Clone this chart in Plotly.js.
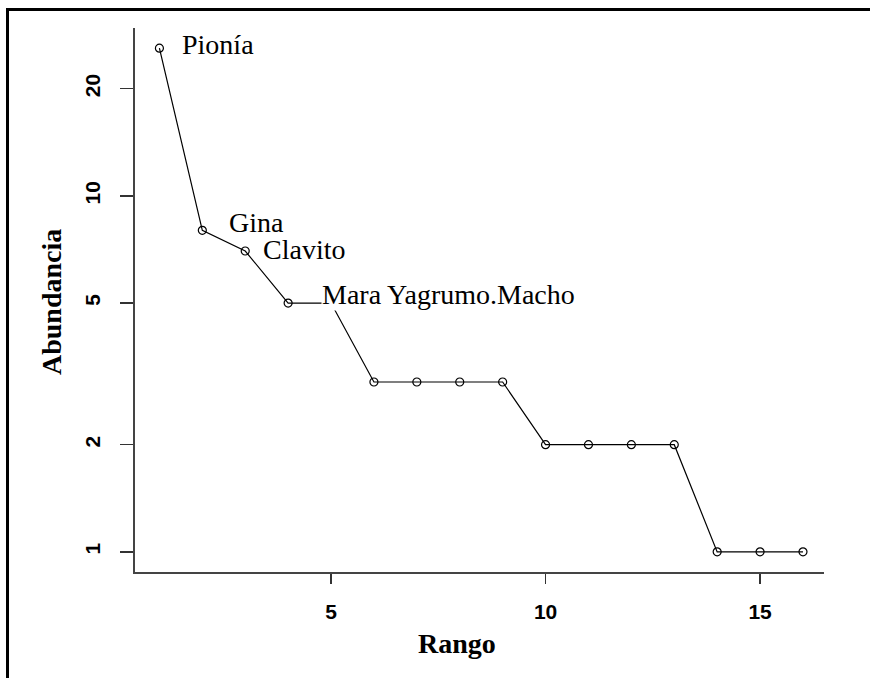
<!DOCTYPE html>
<html>
<head>
<meta charset="utf-8">
<script src="https://cdn.plot.ly/plotly-3.0.1.min.js"></script>
<style>
  html, body { margin: 0; padding: 0; background: #fff; }
  #wrap { position: relative; width: 870px; height: 678px; overflow: hidden; }
  #chart { position: absolute; left: 0; top: 0; width: 870px; height: 678px; }
  #frame { position: absolute; left: 6px; top: 8px; width: 900px; height: 700px;
           border-left: 3px solid #000; border-top: 3px solid #000; pointer-events: none; }
</style>
</head>
<body>
<div id="wrap">
  <div id="chart"></div>
  <div id="frame"></div>
</div>
<script>
// Rank-abundance data
const ranks = [1, 2, 3, 4, 5, 6, 7, 8, 9, 10, 11, 12, 13, 14, 15, 16];
const abundance = [26, 8, 7, 5, 5, 3, 3, 3, 3, 2, 2, 2, 2, 1, 1, 1];

// Labelled species (rank -> name)
const labelRanks = [1, 2, 3, 4];
const labelNames = ["Pionía", "Gina", "Clavito", "Mara Yagrumo.Macho"];

// Tick labels
const yTickVals = [1, 2, 5, 10, 20];
const yTickText = ["1", "2", "5", "10", "20"];
const xTickVals = [5, 10, 15];
const xTickText = ["5", "10", "15"];

const labelStyle = [
  { xshift: 22, yshift: 4, bg: "rgba(0,0,0,0)" },
  { xshift: 26, yshift: 8, bg: "rgba(0,0,0,0)" },
  { xshift: 17, yshift: 2, bg: "rgba(0,0,0,0)" },
  { xshift: 33, yshift: 9, bg: "#ffffff" }
];

const serif = "Liberation Serif, Times New Roman, serif";
const sans = "Liberation Sans, Arial, sans-serif";

const annotations = labelNames.map((name, i) => {
  const r = labelRanks[i];
  return {
    x: r, y: Math.log10(abundance[ranks.indexOf(r)]),
    xref: "x", yref: "y",
    text: name, showarrow: false,
    xanchor: "left", yanchor: "middle",
    xshift: labelStyle[i].xshift, yshift: labelStyle[i].yshift,
    bgcolor: labelStyle[i].bg, borderpad: 0,
    font: { family: serif, size: 28, color: "#000" }
  };
});

const L = 135, R = 824, T = 28, B = 572;
function px2paperX(px) { return (px - L) / (R - L); }
function px2paperY(py) { return (B - py) / (B - T); }

annotations.push({
  x: px2paperX(457), y: px2paperY(643), xref: "paper", yref: "paper",
  xanchor: "center", yanchor: "middle",
  text: "<b>Rango</b>", showarrow: false,
  font: { family: serif, size: 28, color: "#000" }
});
annotations.push({
  x: px2paperX(51), y: px2paperY(302), xref: "paper", yref: "paper",
  xanchor: "center", yanchor: "middle",
  text: "<b>Abundancia</b>", showarrow: false,
  textangle: -90,
  font: { family: serif, size: 28, color: "#000" }
});

const trace = {
  x: ranks, y: abundance,
  type: "scatter", mode: "lines+markers",
  line: { color: "#000", width: 1.2 },
  marker: { symbol: "circle-open", size: 8, color: "#000", line: { color: "#000", width: 1.2 } },
  hoverinfo: "x+y", showlegend: false
};

const layout = {
  width: 870, height: 678,
  margin: { l: L, r: 870 - R, t: T, b: 678 - B, pad: 0 },
  paper_bgcolor: "#fff", plot_bgcolor: "#fff",
  showlegend: false,
  xaxis: {
    range: [0.431, 16.49], autorange: false,
    tickmode: "array", tickvals: xTickVals, ticktext: xTickText,
    ticks: "outside", ticklen: 10, tickwidth: 1.5, tickcolor: "#333",
    showline: true, linecolor: "#444", linewidth: 2,
    showgrid: false, zeroline: false,
    ticklabelstandoff: 10,
    tickfont: { family: sans, size: 21, color: "#000", weight: "bold" }
  },
  yaxis: {
    type: "log", range: [-0.0566, 1.4716], autorange: false,
    tickmode: "array", tickvals: yTickVals, ticktext: yTickText,
    ticks: "outside", ticklen: 13, tickwidth: 1.5, tickcolor: "#333",
    showline: true, linecolor: "#444", linewidth: 2,
    showgrid: false, zeroline: false,
    tickangle: -90,
    ticklabelstandoff: 12,
    tickfont: { family: sans, size: 21, color: "#000", weight: "bold" }
  },
  annotations: annotations
};

Plotly.newPlot("chart", [trace], layout, { displayModeBar: false, staticPlot: true });
</script>
</body>
</html>
